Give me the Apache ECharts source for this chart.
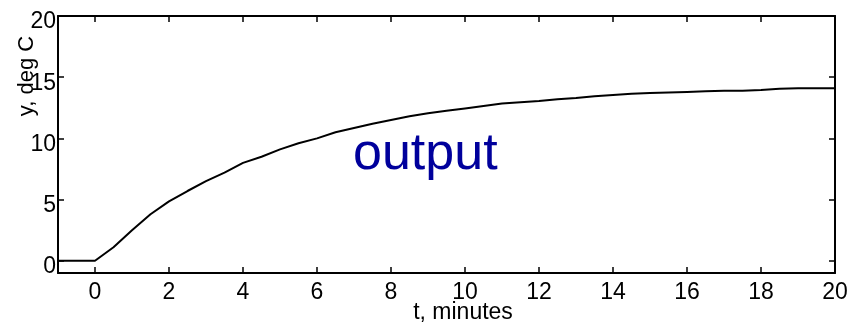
<!DOCTYPE html>
<html>
<head>
<meta charset="utf-8">
<title>output</title>
<script src="https://cdn.jsdelivr.net/npm/echarts@6/dist/echarts.min.js"></script>
<style>
  html, body { margin: 0; padding: 0; background: #fff; }
  #chart { width: 867px; height: 326px; }
</style>
</head>
<body>
<div id="chart"></div>
<script>
// time, minutes
const tMin = [-1, 0, 0.5, 1, 1.5, 2, 2.5, 3, 3.5, 4, 4.5, 5, 5.5, 6, 6.5, 7, 7.5, 8, 8.5, 9, 9.5,
  10, 10.5, 11, 11.5, 12, 12.5, 13, 13.5, 14, 14.5, 15, 15.5, 16, 16.5, 17, 17.5, 18, 18.5, 19, 19.5, 20];
// output, deg C
const yOut = [0, 0, 1.1, 2.5, 3.8, 4.85, 5.7, 6.5, 7.2, 8.0, 8.5, 9.1, 9.6, 10.0, 10.5, 10.85, 11.2, 11.5, 11.8, 12.05, 12.25,
  12.45, 12.65, 12.85, 12.95, 13.05, 13.2, 13.3, 13.45, 13.55, 13.65, 13.7, 13.75, 13.8, 13.85, 13.9, 13.9, 13.95, 14.05, 14.1, 14.1, 14.1];
const xTicks = [0, 2, 4, 6, 8, 10, 12, 14, 16, 18, 20];
const yTicks = [0, 5, 10, 15, 20];

const FONT = "'Liberation Sans', Arial, sans-serif";
const chart = echarts.init(document.getElementById('chart'));

const lineStyle = { color: '#000', width: 2 };
const tickStyle = { color: '#000', width: 1.5 };

const xBase = {
  type: 'value', min: -1, max: 20,
  axisLine: { show: true, onZero: false, lineStyle: lineStyle },
  axisTick: { show: true, inside: true, length: 6, lineStyle: tickStyle, customValues: xTicks },
  splitLine: { show: false }
};
const yBase = {
  type: 'value', min: -1, max: 20,
  axisLine: { show: true, onZero: false, lineStyle: lineStyle },
  axisTick: { show: true, inside: true, length: 6, lineStyle: tickStyle, customValues: yTicks },
  splitLine: { show: false }
};

chart.setOption({
  animation: false,
  backgroundColor: '#fff',
  grid: { left: 58, right: 32, top: 16, bottom: 53 },
  xAxis: [
    Object.assign({}, xBase, {
      position: 'bottom',
      axisLabel: { color: '#000', fontSize: 23, fontFamily: FONT, margin: 8, customValues: xTicks }
    }),
    Object.assign({}, xBase, { position: 'top', axisLabel: { show: false } })
  ],
  yAxis: [
    Object.assign({}, yBase, {
      position: 'left',
      // labels sit a little below their ticks, as in the original
      axisLabel: { color: '#000', fontSize: 23, fontFamily: FONT, margin: 2,
        verticalAlign: 'top', lineHeight: 12, customValues: yTicks }
    }),
    Object.assign({}, yBase, { position: 'right', axisLabel: { show: false } })
  ],
  graphic: [
    {
      type: 'text', x: 463, y: 313,
      style: { text: 't, minutes', fill: '#000', font: '23px ' + FONT, align: 'center', verticalAlign: 'middle' }
    },
    {
      type: 'text', x: 27, y: 76, rotation: Math.PI / 2,
      style: { text: 'y, deg C', fill: '#000', font: '22px ' + FONT, align: 'center', verticalAlign: 'middle' }
    },
    {
      type: 'text', x: 353, y: 155,
      style: { text: 'output', fill: '#00009c', font: '52px ' + FONT, align: 'left', verticalAlign: 'middle' }
    }
  ],
  series: [{
    type: 'line',
    data: tMin.map((t, i) => [t, yOut[i]]),
    showSymbol: false,
    lineStyle: { color: '#000', width: 2 },
    z: 3
  }]
});
</script>
</body>
</html>
